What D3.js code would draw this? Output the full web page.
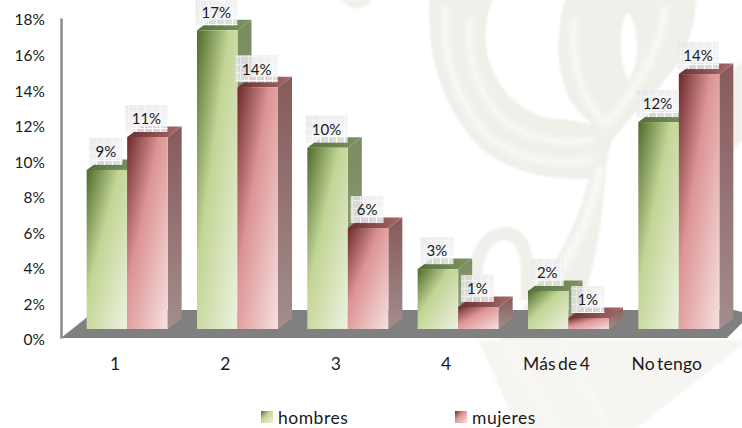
<!DOCTYPE html>
<html><head><meta charset="utf-8">
<script src="https://cdnjs.cloudflare.com/ajax/libs/d3/7.8.5/d3.min.js"></script>
<style>html,body{margin:0;padding:0;background:#fff}svg{display:block}text{font-family:Lato,"Open Sans",sans-serif;fill:#1a1a1a}</style>
</head><body><div id="c"></div>
<script>
const categories = ["1","2","3","4","Más de 4","No tengo"];
const seriesNames = ["hombres","mujeres"];
const hombres = [8.95,16.8,10.2,3.37,2.14,11.64];
const mujeres = [10.8,13.6,5.68,1.24,0.62,14.34];
const hombresLabels = ["9%","17%","10%","3%","2%","12%"];
const mujeresLabels = ["11%","14%","6%","1%","1%","14%"];
const yTicks = [0,2,4,6,8,10,12,14,16,18];

const W=742,H=428,DX=14,DY=10.5,LIFT=9;
const svg=d3.select("#c").append("svg").attr("width",W).attr("height",H);
const defs=svg.append("defs");
function grad(id,stops,x2,y2){
  const g=defs.append("linearGradient").attr("id",id).attr("x1",0).attr("y1",0).attr("x2",x2).attr("y2",y2);
  stops.forEach(s=>g.append("stop").attr("offset",s[0]).attr("stop-color",s[1]));
}
grad("f0",[[0,"#4f6a2c"],[.4,"#c2d595"],[1,"#edf2e0"]],1,1);
grad("f1",[[0,"#6c2a2a"],[.4,"#dd9494"],[1,"#f6e0e0"]],1,1);
grad("s0",[[0,"#7a8c5f"],[1,"#97a384"]],0,1);
grad("s1",[[0,"#875a5a"],[1,"#a38d8d"]],0,1);
grad("t0",[[0,"#53703a"],[1,"#7f9565"]],1,0);
grad("t1",[[0,"#6a3232"],[1,"#a96a6a"]],1,0);
grad("box",[[0,"#e6e6e9"],[1,"#f7f7f8"]],1,1);
const pat=defs.append("pattern").attr("id","grid").attr("width",8).attr("height",8).attr("patternUnits","userSpaceOnUse");
pat.append("path").attr("d","M0 .5H8M.5 0V8").attr("stroke","#fff").attr("stroke-width",1).attr("fill","none");
defs.append("filter").attr("id","soft").append("feGaussianBlur").attr("stdDeviation",.8);
defs.append("filter").attr("id","soft2").append("feGaussianBlur").attr("stdDeviation",2.5);

// background watermark (treble clef)
const wm=svg.append("g").attr("filter","url(#soft)");
[
 ["M430,-5C425,60 445,110 480,148C510,172 550,182 600,178L605,130C585,120 565,120 548,118C520,112 490,85 486,45C484,25 488,10 495,-5Z","#f0efea"],
 ["M567,-5C555,30 555,70 570,100C578,112 590,122 598,130C592,170 585,207 560,253C540,290 515,315 500,340L560,340C590,300 600,250 606,167C608,155 610,148 612,140L646,100C680,70 696,35 696,-5ZM628,12C618,25 618,60 628,80C640,65 640,28 628,12Z","#f0efea"],
 ["M478,340L742,340L742,345L637,428L518,428Z","#f6f5f1"],
 ["M470,300C462,250 485,227 505,227C528,227 538,250 532,300L520,300C524,262 518,240 505,240C490,240 478,262 484,300Z","#f0efea"],
 ["M733,70L742,62L742,140L733,150Z","#f0efea"],
 ["M341,0Q357,16 373,0Z","#f0efea"]
].forEach(d=>wm.append("path").attr("d",d[0]).attr("fill",d[1]).attr("fill-rule","evenodd"));
const wmS=svg.append("g").attr("fill","none").attr("stroke","#f8f8f5").attr("filter","url(#soft2)").attr("stroke-linecap","round");
[
 ["M445,10C442,60 458,105 490,138C520,160 555,165 590,160",7],
 ["M470,20C466,65 480,100 510,125C535,140 560,145 590,140",6],
 ["M575,20C570,60 580,95 605,125",7],
 ["M665,10C660,50 640,85 610,120",8],
 ["M600,170C590,220 570,260 535,310",9],
 ["M510,350C530,385 545,405 555,428",10],
 ["M560,350C580,375 595,400 605,428",8]
].forEach(d=>wmS.append("path").attr("d",d[0]).attr("stroke-width",d[1]));

const x0=d3.scaleBand().domain(categories).range([60,722]);
const x1=d3.scaleBand().domain(seriesNames).range([12,12+x0.bandwidth()]).paddingInner(0).paddingOuter(.362);
const y=d3.scaleLinear().domain([0,18]).range([338,18]);
const data=seriesNames.map((n,i)=>({i,n,vals:i?mujeres:hombres,labs:i?mujeresLabels:hombresLabels}));

// floor
const base=y(0)-LIFT;
svg.append("path").attr("fill","#808080")
  .attr("d",`M61,${y(0)}L96,${base-19}L734,${base-19}L742,${base-17}L742,${y(0)-15}L727,${y(0)}Z`);

// axes
const ay=svg.append("g").attr("transform","translate(61,0)")
  .call(d3.axisLeft(y).tickValues(yTicks).tickFormat(d=>d+"%").tickSize(0).tickPadding(16));
ay.select(".domain").attr("stroke","#8a8a8a").attr("stroke-width",2.5);
ay.selectAll("text").attr("font-size",15.5).attr("dy","0.45em");
const ax=svg.append("g").attr("transform",`translate(0,${y(0)})`)
  .call(d3.axisBottom(x0).tickSize(0).tickPadding(20));
ax.select(".domain").remove();
ax.selectAll("text").attr("font-size",17.5).attr("word-spacing","-2.5px").attr("letter-spacing","0.2px");

// bars
const w=x1.bandwidth();
categories.forEach((c,ci)=>{
  data.forEach(s=>{
    const g=svg.append("g");
    const L=x0(c)+x1(s.n), R=L+w, T=y(s.vals[ci])-LIFT;
    g.append("path").attr("fill",`url(#s${s.i})`)
      .attr("d",`M${R},${T}L${R+DX},${T-DY}L${R+DX},${base-DY}L${R},${base}Z`);
    g.append("path").attr("fill",`url(#t${s.i})`)
      .attr("d",`M${L},${T}L${L+DX},${T-DY}L${R+DX},${T-DY}L${R},${T}Z`);
    g.append("rect").attr("x",L).attr("y",T).attr("width",w).attr("height",base-T).attr("fill",`url(#f${s.i})`);
  });
});
// data labels
categories.forEach((c,ci)=>{
  data.forEach(s=>{
    const cx=x0(c)+x1(s.n)+w/2-1, T=y(s.vals[ci])-LIFT, lab=s.labs[ci];
    const bw=lab.length>2?42:33, bh=27, by=T-5-bh;
    const g=svg.append("g");
    g.append("rect").attr("x",cx-bw/2).attr("y",by).attr("width",bw).attr("height",bh).attr("fill","url(#box)").attr("opacity",.82);
    g.append("rect").attr("x",cx-bw/2).attr("y",by).attr("width",bw).attr("height",bh).attr("fill","url(#grid)").attr("opacity",.45);
    g.append("rect").attr("x",cx-bw/2+6).attr("y",by+bh-5).attr("width",bw-6).attr("height",5).attr("fill","url(#grid)").attr("opacity",.9);
    g.append("text").attr("x",cx).attr("y",T-18).attr("dy","0.36em").attr("text-anchor","middle").attr("font-size",15).text(lab);
  });
});
// legend
const legX=d3.scaleOrdinal().domain(seriesNames).range([261,455]);
seriesNames.forEach((n,i)=>{
  svg.append("rect").attr("x",legX(n)).attr("y",411).attr("width",12).attr("height",12).attr("fill",`url(#f${i})`);
  svg.append("text").attr("x",legX(n)+17).attr("y",424).attr("font-size",17.5).attr("letter-spacing","0.5px").text(n);
});
</script></body></html>
